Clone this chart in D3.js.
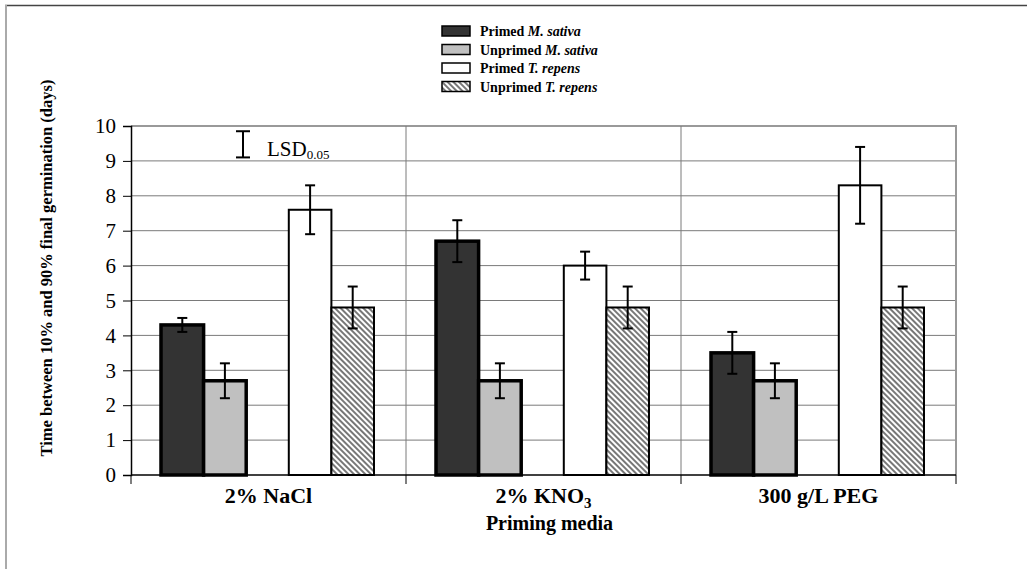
<!DOCTYPE html>
<html>
<head>
<meta charset="utf-8">
<script src="https://cdn.jsdelivr.net/npm/d3@7"></script>
<style>
  body { margin: 0; background: #fff; }
  svg, svg text { font-family: "Liberation Serif", "Times New Roman", serif; }
</style>
</head>
<body>
<div id="wrapper"></div>
<script>
// priming media on the x axis
const media = ["2% NaCl", "2% KNO3", "300 g/L PEG"];
// the four series, in legend order
const series = ["Primed M. sativa", "Unprimed M. sativa", "Primed T. repens", "Unprimed T. repens"];
// days between 10% and 90% germination, one array per series
const primedSativa = [4.3, 6.7, 3.5];
const unprimedSativa = [2.7, 2.7, 2.7];
const primedRepens = [7.6, 6.0, 8.3];
const unprimedRepens = [4.8, 4.8, 4.8];
// half-length of the error bars
const errPrimedSativa = [0.2, 0.6, 0.6];
const errUnprimedSativa = [0.5, 0.5, 0.5];
const errPrimedRepens = [0.7, 0.4, 1.1];
const errUnprimedRepens = [0.6, 0.6, 0.6];
const yTicks = [0, 1, 2, 3, 4, 5, 6, 7, 8, 9, 10];
// LSD 0.05 bar drawn in the corner
const lsd = [9.1, 9.85];

const serif = "'Liberation Serif', 'Times New Roman', serif";

function drawChart() {
	const width = 1027;
	const height = 569;
	const left = 131, right = 956, top = 126, bottom = 475;

	const svg = d3.select("#wrapper")
		.append("svg")
		.attr("width", width)
		.attr("height", height)
		.attr("font-family", serif);

	// outer frame (only top and left show)
	svg.append("line").attr("x1", 5).attr("x2", width).attr("y1", 5.5).attr("y2", 5.5)
		.attr("stroke", "#444").attr("stroke-width", 1.5);
	svg.append("line").attr("x1", 6).attr("x2", 6).attr("y1", 5).attr("y2", height)
		.attr("stroke", "#aaa").attr("stroke-width", 2);

	const xScale = d3.scaleBand()
		.domain(media)
		.range([left, right]);

	// 5 slots per group, the middle one stays empty
	const slot = d3.scaleBand()
		.domain([0, 1, 2, 3, 4])
		.range([30, xScale.bandwidth() - 32]);
	const slotOf = [0, 1, 3, 4];

	const yScale = d3.scaleLinear()
		.domain([0, 10])
		.range([bottom, top]);

	// hatch for unprimed T. repens
	const defs = svg.append("defs");
	const pat = defs.append("pattern")
		.attr("id", "hatch")
		.attr("patternUnits", "userSpaceOnUse")
		.attr("width", 4).attr("height", 4)
		.attr("patternTransform", "rotate(45)");
	pat.append("rect").attr("width", 4).attr("height", 4).attr("fill", "#fff");
	pat.append("line").attr("x1", 0).attr("x2", 4).attr("y1", 1).attr("y2", 1)
		.attr("stroke", "#555").attr("stroke-width", 1.6);

	// gridlines
	svg.append("g").selectAll("line")
		.data(yTicks.filter(d => d > 0))
		.enter().append("line")
		.attr("x1", left).attr("x2", right)
		.attr("y1", d => yScale(d)).attr("y2", d => yScale(d))
		.attr("stroke", d => d === 10 ? "#999" : "#7a7a7a")
		.attr("stroke-width", d => d === 10 ? 2 : 1);

	// vertical separators between media
	svg.append("g").selectAll("line")
		.data(media.slice(1))
		.enter().append("line")
		.attr("x1", d => xScale(d)).attr("x2", d => xScale(d))
		.attr("y1", top).attr("y2", bottom)
		.attr("stroke", "#7a7a7a").attr("stroke-width", 1);

	// right border of plot area
	svg.append("line").attr("x1", right).attr("x2", right).attr("y1", top - 1).attr("y2", bottom)
		.attr("stroke", "#999").attr("stroke-width", 2);

	const values = [primedSativa, unprimedSativa, primedRepens, unprimedRepens];
	const errors = [errPrimedSativa, errUnprimedSativa, errPrimedRepens, errUnprimedRepens];
	const fills = ["#333333", "#c0c0c0", "#ffffff", "url(#hatch)"];
	const strokes = [3.5, 3.5, 2, 2];

	const rows = [];
	media.forEach(function(m, i) {
		series.forEach(function(s, j) {
			rows.push({ m: m, j: j, v: values[j][i], e: errors[j][i] });
		});
	});
	const barX = d => xScale(d.m) + slot(slotOf[d.j]);

	svg.append("g").selectAll("rect")
		.data(rows)
		.enter().append("rect")
		.attr("x", barX)
		.attr("y", d => yScale(d.v))
		.attr("width", slot.bandwidth())
		.attr("height", d => yScale(0) - yScale(d.v))
		.attr("fill", d => fills[d.j])
		.attr("stroke", "#000")
		.attr("stroke-width", d => strokes[d.j]);

	// error bars
	const eb = svg.append("g").attr("stroke", "#000").attr("stroke-width", 2);
	rows.forEach(function(d) {
		const cx = barX(d) + slot.bandwidth() / 2;
		eb.append("line").attr("x1", cx).attr("x2", cx)
			.attr("y1", yScale(d.v - d.e)).attr("y2", yScale(d.v + d.e));
		[d.v - d.e, d.v + d.e].forEach(function(y) {
			eb.append("line").attr("x1", cx - 5).attr("x2", cx + 5)
				.attr("y1", yScale(y)).attr("y2", yScale(y));
		});
	});

	// axes
	const yAxis = d3.axisLeft(yScale).tickValues(yTicks).tickSize(8).tickPadding(7);
	const gy = svg.append("g").attr("transform", `translate(${left},0)`).call(yAxis);
	gy.attr("font-family", serif);
	gy.select(".domain").attr("stroke", "#000").attr("stroke-width", 1.5);
	gy.selectAll(".tick line").attr("stroke", "#000");
	gy.selectAll("text").attr("font-family", serif).attr("font-size", 21).attr("fill", "#000");

	const gx = svg.append("g").attr("transform", `translate(0,${bottom})`);
	gx.append("line").attr("x1", left).attr("x2", right).attr("y1", 0).attr("y2", 0)
		.attr("stroke", "#000").attr("stroke-width", 1.5);
	gx.selectAll(".tk")
		.data(media.concat(["end"]))
		.enter().append("line")
		.attr("x1", (d, i) => i < media.length ? xScale(d) : right)
		.attr("x2", (d, i) => i < media.length ? xScale(d) : right)
		.attr("y1", 0).attr("y2", 9)
		.attr("stroke", "#000");

	const lab = svg.append("g")
		.attr("font-family", serif)
		.attr("font-weight", "bold").attr("font-size", 22).attr("text-anchor", "middle");
	media.forEach(function(m) {
		const t = lab.append("text")
			.attr("x", xScale(m) + xScale.bandwidth() / 2)
			.attr("y", 503);
		if (m === "2% KNO3") {
			t.append("tspan").text("2% KNO");
			t.append("tspan").attr("font-size", 15).attr("dy", 5).text("3");
		} else {
			t.text(m);
		}
	});

	svg.append("text")
		.attr("x", xScale(media[1]) + xScale.bandwidth() / 2 + 6)
		.attr("y", 530)
		.attr("text-anchor", "middle")
		.attr("font-family", serif)
		.attr("font-weight", "bold").attr("font-size", 20)
		.text("Priming media");

	svg.append("text")
		.attr("transform", "translate(52,268) rotate(-90)")
		.attr("text-anchor", "middle")
		.attr("font-family", serif)
		.attr("font-weight", "bold").attr("font-size", 16.5)
		.text("Time between 10% and 90% final germination (days)");

	// LSD marker
	const lsdX = 243;
	const lg = svg.append("g").attr("stroke", "#000").attr("stroke-width", 2);
	lg.append("line").attr("x1", lsdX).attr("x2", lsdX).attr("y1", yScale(lsd[0])).attr("y2", yScale(lsd[1]));
	lsd.forEach(function(v) {
		lg.append("line").attr("x1", lsdX - 7).attr("x2", lsdX + 7).attr("y1", yScale(v)).attr("y2", yScale(v));
	});
	const lt = svg.append("text").attr("x", 267).attr("y", 156)
		.attr("font-family", serif).attr("font-size", 21);
	lt.append("tspan").text("LSD");
	lt.append("tspan").attr("font-size", 13).attr("dy", 3).text("0.05");

	// legend
	const legend = svg.append("g").attr("transform", "translate(441,24)");
	const names = [["Primed ", "M. sativa"], ["Unprimed ", "M. sativa"], ["Primed ", "T. repens"], ["Unprimed ", "T. repens"]];
	const items = legend.selectAll("g")
		.data(series)
		.enter().append("g")
		.attr("transform", (d, i) => `translate(0,${i * 18.5})`);
	items.append("rect")
		.attr("x", 1).attr("y", 2).attr("width", 28).attr("height", 10)
		.attr("fill", (d, i) => fills[i])
		.attr("stroke", "#000").attr("stroke-width", 1.5);
	const itxt = items.append("text")
		.attr("x", 39).attr("y", 12)
		.attr("font-family", serif)
		.attr("font-weight", "bold").attr("font-size", 14);
	itxt.append("tspan").text((d, i) => names[i][0]);
	itxt.append("tspan").attr("font-style", "italic").text((d, i) => names[i][1]);
}
drawChart();
</script>
</body>
</html>
